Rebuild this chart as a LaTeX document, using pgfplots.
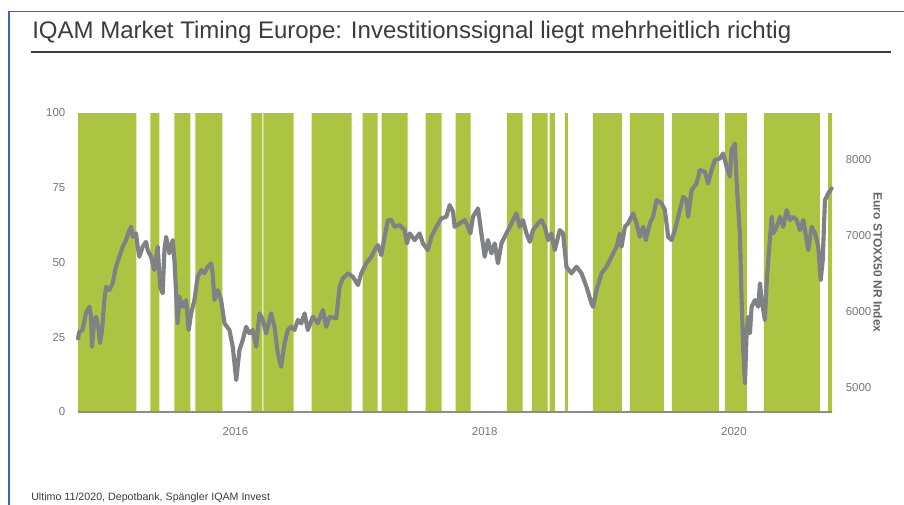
\documentclass[border=0pt]{standalone}
\usepackage{fontspec}
\setmainfont{Liberation Sans}
\usepackage{pgfplots}
\usepackage{pgfplotstable}
\pgfplotsset{compat=1.18}
\definecolor{bargreen}{RGB}{172,196,66}
\definecolor{linegray}{RGB}{128,129,133}
\definecolor{ticklab}{RGB}{120,120,120}
\definecolor{axisgray}{RGB}{140,140,140}
\definecolor{titlecol}{RGB}{60,60,60}
\definecolor{framecol}{RGB}{55,100,170}
\definecolor{ylabcol}{RGB}{100,100,100}

\pgfplotstableread{
x y
2014.830 100
2015.302 0
2015.415 100
2015.487 0
2015.609 100
2015.738 0
2015.778 100
2015.997 0
2016.231 100
2016.320 0
2016.328 100
2016.571 0
2016.716 100
2017.040 0
2017.129 100
2017.250 0
2017.282 100
2017.492 0
2017.638 100
2017.767 0
2017.880 100
2018.002 0
2018.293 100
2018.422 0
2018.495 100
2018.624 0
2018.640 100
2018.681 0
2018.762 100
2018.786 0
2018.988 100
2019.222 0
2019.287 100
2019.562 0
2019.627 100
2020.007 0
2020.055 100
2020.233 0
2020.370 100
2020.823 0
2020.888 100
2020.920 100
}\signal

\pgfplotstableread{
x y
2014.830 5646
2014.841 5733
2014.867 5756
2014.895 5980
2014.922 6063
2014.935 5931
2014.943 5536
2014.962 5888
2014.976 5931
2014.997 5756
2015.008 5584
2015.024 5756
2015.043 6151
2015.057 6327
2015.083 6283
2015.110 6372
2015.137 6591
2015.164 6723
2015.191 6855
2015.218 6943
2015.245 7075
2015.259 7118
2015.272 6986
2015.299 7031
2015.312 6855
2015.326 6723
2015.352 6855
2015.380 6920
2015.393 6811
2015.420 6723
2015.447 6547
2015.474 6855
2015.493 6327
2015.514 6240
2015.528 6811
2015.542 6986
2015.568 6767
2015.595 6943
2015.609 6679
2015.635 5844
2015.649 6195
2015.676 6063
2015.703 6151
2015.724 5756
2015.744 5976
2015.770 6151
2015.797 6459
2015.825 6547
2015.851 6504
2015.878 6591
2015.905 6636
2015.918 6504
2015.932 6151
2015.959 6283
2015.986 6151
2016.013 5844
2016.053 5756
2016.080 5536
2016.108 5096
2016.134 5492
2016.161 5624
2016.188 5799
2016.215 5712
2016.242 5756
2016.269 5536
2016.296 5976
2016.323 5888
2016.350 5712
2016.390 5976
2016.417 5799
2016.444 5448
2016.471 5272
2016.498 5580
2016.525 5756
2016.552 5799
2016.579 5756
2016.606 5888
2016.633 5844
2016.660 5976
2016.686 5756
2016.727 5931
2016.767 5844
2016.808 6020
2016.835 5799
2016.862 5931
2016.916 5910
2016.943 6327
2016.969 6438
2017.010 6504
2017.050 6459
2017.091 6349
2017.118 6504
2017.158 6636
2017.199 6723
2017.226 6811
2017.252 6877
2017.280 6745
2017.306 6986
2017.333 7207
2017.361 7207
2017.387 7118
2017.428 7141
2017.468 7075
2017.487 6899
2017.509 7031
2017.549 6943
2017.589 7031
2017.616 6899
2017.656 6811
2017.684 6986
2017.724 7118
2017.765 7229
2017.805 7250
2017.832 7405
2017.859 7316
2017.872 7118
2017.913 7163
2017.953 7207
2017.980 7118
2017.999 7031
2018.020 7250
2018.061 7361
2018.088 7031
2018.115 6723
2018.141 6943
2018.169 6767
2018.196 6899
2018.222 6636
2018.250 6899
2018.290 7031
2018.331 7163
2018.371 7295
2018.398 7118
2018.424 7207
2018.452 7031
2018.479 6920
2018.505 7075
2018.546 7163
2018.573 7207
2018.600 7118
2018.627 6943
2018.654 7031
2018.681 6811
2018.721 7075
2018.748 7031
2018.775 6591
2018.816 6504
2018.856 6591
2018.897 6504
2018.937 6327
2018.977 6108
2018.990 6063
2019.018 6283
2019.058 6504
2019.099 6591
2019.139 6723
2019.180 6855
2019.206 7031
2019.220 6855
2019.247 7118
2019.273 7163
2019.314 7295
2019.341 7163
2019.368 6986
2019.395 7118
2019.416 6943
2019.449 7163
2019.475 7250
2019.503 7471
2019.543 7427
2019.570 7339
2019.597 6986
2019.624 6943
2019.651 7075
2019.678 7250
2019.718 7514
2019.745 7471
2019.758 7250
2019.786 7602
2019.826 7691
2019.853 7866
2019.893 7844
2019.920 7691
2019.947 7866
2019.974 7998
2020.015 8021
2020.041 8086
2020.069 7910
2020.095 7778
2020.109 8130
2020.136 8218
2020.150 7691
2020.176 7031
2020.190 6151
2020.203 5492
2020.217 5053
2020.230 5712
2020.243 5931
2020.257 5712
2020.271 6063
2020.298 6151
2020.324 6063
2020.338 6372
2020.352 6151
2020.378 5888
2020.392 6372
2020.405 6679
2020.433 7250
2020.446 7031
2020.473 7118
2020.500 7250
2020.526 7118
2020.554 7339
2020.580 7207
2020.607 7250
2020.635 7207
2020.661 7075
2020.688 7207
2020.728 6811
2020.756 7118
2020.783 7031
2020.809 6855
2020.829 6415
2020.845 6679
2020.863 7471
2020.890 7559
2020.917 7625
}\stoxx

\begin{document}
\begin{tikzpicture}
\useasboundingbox (0,0) rectangle (678pt,-378pt);
\clip (0,0) rectangle (678pt,-378pt);
\fill[white] (0,0) rectangle (678pt,-378pt);
\begin{scope}[x=0.75pt,y=-0.75pt]
  \draw[framecol, line width=1pt] (9,510) -- (9,11.5) -- (910,11.5);
  \draw[titlecol, line width=1.5pt] (31,51.7) -- (891,51.7);
  \node[anchor=base west, inner sep=0pt, text=titlecol] at (32,38.5)
    {\fontsize{18}{20}\selectfont IQAM Market Timing Europe: Investitionssignal liegt mehrheitlich richtig};
  \node[anchor=base west, inner sep=0pt, text=titlecol] at (31,500.5)
    {\fontsize{8}{9}\selectfont Ultimo 11/2020, Depotbank, Spängler IQAM Invest};
\end{scope}

\begin{axis}[
  at={(58.5pt,-309pt)}, anchor=south west,
  scale only axis, width=565.5pt, height=224.25pt,
  xmin=2014.83, xmax=2020.92, ymin=0, ymax=100,
  axis on top,
  axis x line*=bottom, axis y line*=left,
  x axis line style={draw=axisgray, line width=1.3pt},
  y axis line style={draw=none},
  major tick length=0pt,
  ytick={0,25,50,75,100},
  xtick={2016.102,2018.115,2020.128},
  xticklabels={2016,2018,2020},
  /pgf/number format/assume math mode=true,
  yticklabel style={font=\fontsize{8.6}{10}\selectfont, text=ticklab, xshift=-6pt},
  xticklabel style={font=\fontsize{8.6}{10}\selectfont, text=ticklab, yshift=-8pt},
]
\addplot[const plot, fill=bargreen, draw=none] table[x=x,y=y]{\signal} \closedcycle;
\end{axis}

\begin{axis}[
  at={(58.5pt,-309pt)}, anchor=south west,
  scale only axis, width=565.5pt, height=224.25pt,
  xmin=2014.83, xmax=2020.92, ymin=4674, ymax=8620,
  axis x line=none, axis y line*=right,
  y axis line style={draw=none},
  major tick length=0pt,
  ytick={5000,6000,7000,8000},
  scaled y ticks=false,
  /pgf/number format/1000 sep={},
  /pgf/number format/assume math mode=true,
  yticklabel style={font=\fontsize{8.6}{10}\selectfont, text=ticklab, xshift=6.8pt},
  ylabel={Euro STOXX50 NR Index},
  ylabel style={at={([xshift=34.5pt]axis description cs:1,0.5)}, anchor=center, rotate=180,
    font=\bfseries\fontsize{9}{10}\selectfont, text=ylabcol},
  clip=false,
]
\addplot[linegray, line width=3.1pt, line join=round, line cap=round, mark=none] table[x=x,y=y]{\stoxx};
\end{axis}
\end{tikzpicture}
\end{document}
